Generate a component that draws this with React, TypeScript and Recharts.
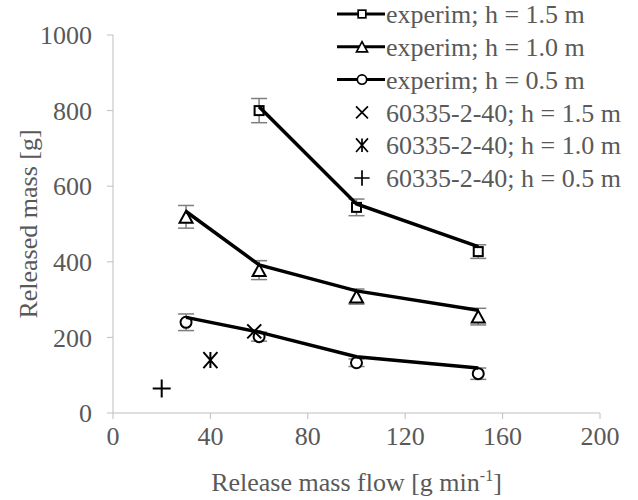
import React from 'react';
import { ScatterChart, Scatter, XAxis, YAxis, ErrorBar } from 'recharts';

// measured points (markers + error bars)
const flow15 = [60, 100, 150];
const mass15 = [800, 544, 427];
const err15 = [32, 22, 18];
const fit15 = [810, 553, 440];

const flow10 = [30, 60, 100, 150];
const mass10 = [519, 378, 308, 255];
const err10 = [30, 25, 20, 22];
const fit10 = [533, 392, 323, 272];

const flow05 = [30, 60, 100, 150];
const mass05 = [240, 202, 133, 104];
const err05 = [22, 12, 10, 15];
const fit05 = [253, 214, 149, 119];

// 60335-2-40 reference values
const stdFlow = [58, 40, 20];
const stdMass = [216, 140, 65];

const xTicks = [0, 40, 80, 120, 160, 200];
const yTicks = [0, 200, 400, 600, 800, 1000];

const FONT = '"Liberation Serif", "Times New Roman", serif';
const FS = 26;
const TEXT = '#595959';
const AXIS = '#bfbfbf';

const pts = (xs: number[], ys: number[], errs?: number[]) =>
    xs.map((x, i) => ({ x, y: ys[i], err: errs ? errs[i] : 0 }));

const Square = ({ cx, cy }: any) => (
    <rect x={cx - 4.5} y={cy - 4.5} width={9} height={9} fill="#fff" stroke="#000" strokeWidth={2} />
);
const Triangle = ({ cx, cy }: any) => (
    <path d={`M${cx},${cy - 6} L${cx + 6.5},${cy + 6} L${cx - 6.5},${cy + 6} Z`} fill="#fff" stroke="#000" strokeWidth={2} />
);
const Circle = ({ cx, cy }: any) => (
    <circle cx={cx} cy={cy} r={5.5} fill="#fff" stroke="#000" strokeWidth={2} />
);
const Cross = ({ cx, cy }: any) => (
    <path d={`M${cx - 7},${cy - 7} L${cx + 7},${cy + 7} M${cx + 7},${cy - 7} L${cx - 7},${cy + 7}`} stroke="#000" strokeWidth={2} />
);
const Star = ({ cx, cy }: any) => (
    <path d={`M${cx - 7},${cy - 8} L${cx + 7},${cy + 8} M${cx + 7},${cy - 8} L${cx - 7},${cy + 8} M${cx},${cy - 8} L${cx},${cy + 8}`} stroke="#000" strokeWidth={2} />
);
const Plus = ({ cx, cy }: any) => (
    <path d={`M${cx - 9},${cy} L${cx + 9},${cy} M${cx},${cy - 9} L${cx},${cy + 9}`} stroke="#000" strokeWidth={2} />
);
const NoDot = () => <g />;

const legendRows = [
    { name: 'experim; h = 1.5 m', line: true, Mark: Square },
    { name: 'experim; h = 1.0 m', line: true, Mark: Triangle },
    { name: 'experim; h = 0.5 m', line: true, Mark: Circle },
    { name: '60335-2-40; h = 1.5 m', line: false, Mark: Cross },
    { name: '60335-2-40; h = 1.0 m', line: false, Mark: Star },
    { name: '60335-2-40; h = 0.5 m', line: false, Mark: Plus },
];

const LegendBox = () => (
    <svg width={308} height={200} style={{ position: 'absolute', left: 330, top: 0 }}>
        {legendRows.map((r, i) => {
            const y = 14 + i * 32.8;
            const s = r.line ? 0.85 : 0.85;
            return (
                <g key={r.name}>
                    {r.line && <line x1={7} x2={55} y1={y} y2={y} stroke="#000" strokeWidth={3} />}
                    <g transform={`translate(32,${y}) scale(${s}) translate(-32,${-y})`}>
                        <r.Mark cx={32} cy={y} />
                    </g>
                    <text x={56} y={y} dy="0.35em" fontFamily={FONT} fontSize={FS} fill={TEXT}>{r.name}</text>
                </g>
            );
        })}
    </svg>
);

const XTitle = ({ viewBox }: any) => {
    const cx = viewBox.x + viewBox.width / 2;
    return (
        <text x={cx} y={491} textAnchor="middle" fontFamily={FONT} fontSize={FS} fill={TEXT}>
            Release mass flow [g min<tspan dy={-10} fontSize={16}>-1</tspan><tspan dy={10}>]</tspan>
        </text>
    );
};

const YTitle = ({ viewBox }: any) => {
    const cy = viewBox.y + viewBox.height / 2;
    return (
        <text x={28} y={cy} textAnchor="middle" dy="0.35em" transform={`rotate(-90, 28, ${cy})`} fontFamily={FONT} fontSize={FS} fill={TEXT}>
            Released mass [g]
        </text>
    );
};

const tickStyle = { fontFamily: FONT, fontSize: FS, fill: TEXT };

export default function App() {
    return (
        <div style={{ position: 'absolute', left: 0, top: 0, width: 638, height: 500, background: '#fff' }}>
            <ScatterChart width={638} height={500} margin={{ top: 35, right: 38, bottom: 7, left: 0 }}>
                <XAxis
                    type="number"
                    dataKey="x"
                    domain={[0, 200]}
                    ticks={xTicks}
                    height={80}
                    stroke={AXIS}
                    tickLine={{ stroke: AXIS }}
                    tickSize={6}
                    tickMargin={8}
                    tick={tickStyle}
                    label={{ content: XTitle }}
                />
                <YAxis
                    type="number"
                    dataKey="y"
                    domain={[0, 1000]}
                    ticks={yTicks}
                    width={113}
                    stroke={AXIS}
                    tickLine={{ stroke: AXIS }}
                    tickSize={6}
                    tickMargin={15}
                    tick={tickStyle}
                    label={{ content: YTitle }}
                />

                <Scatter data={pts(flow15, mass15, err15)} shape={Square} isAnimationActive={false} legendType="none">
                    <ErrorBar dataKey="err" direction="y" width={8} stroke="#7f7f7f" strokeWidth={1.5} />
                </Scatter>
                <Scatter data={pts(flow10, mass10, err10)} shape={Triangle} isAnimationActive={false} legendType="none">
                    <ErrorBar dataKey="err" direction="y" width={8} stroke="#7f7f7f" strokeWidth={1.5} />
                </Scatter>
                <Scatter data={pts(flow05, mass05, err05)} shape={Circle} isAnimationActive={false} legendType="none">
                    <ErrorBar dataKey="err" direction="y" width={8} stroke="#7f7f7f" strokeWidth={1.5} />
                </Scatter>

                <Scatter data={pts(flow15, fit15)} shape={NoDot} line={{ stroke: '#000', strokeWidth: 3.5 }} lineType="joint" isAnimationActive={false} legendType="none" />
                <Scatter data={pts(flow10, fit10)} shape={NoDot} line={{ stroke: '#000', strokeWidth: 3.5 }} lineType="joint" isAnimationActive={false} legendType="none" />
                <Scatter data={pts(flow05, fit05)} shape={NoDot} line={{ stroke: '#000', strokeWidth: 3.5 }} lineType="joint" isAnimationActive={false} legendType="none" />

                <Scatter data={pts(stdFlow.slice(0, 1), stdMass.slice(0, 1))} shape={Cross} isAnimationActive={false} legendType="none" />
                <Scatter data={pts(stdFlow.slice(1, 2), stdMass.slice(1, 2))} shape={Star} isAnimationActive={false} legendType="none" />
                <Scatter data={pts(stdFlow.slice(2, 3), stdMass.slice(2, 3))} shape={Plus} isAnimationActive={false} legendType="none" />
            </ScatterChart>
            <LegendBox />
        </div>
    );
}
